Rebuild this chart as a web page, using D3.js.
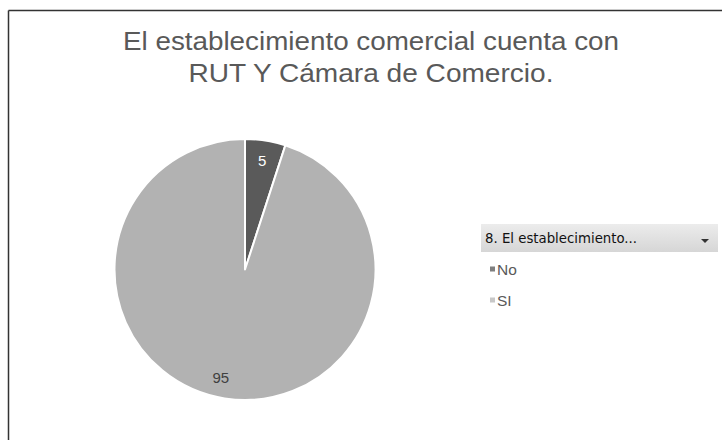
<!DOCTYPE html>
<html>
<head>
<meta charset="utf-8">
<script src="https://cdn.jsdelivr.net/npm/d3@7"></script>
<style>
body { margin: 0; background: #fff; }
svg { display: block; }
</style>
</head>
<body>
<svg id="chart" width="722" height="440"></svg>
<script>
// data
var categories = ["No", "SI"];
var values = [5, 95];
var colors = ["#5a5a5a", "#b2b2b2"];
var titleLines = ["El establecimiento comercial cuenta con", "RUT Y Cámara de Comercio."];
var legendTitle = "8. El establecimiento...";

var svg = d3.select("#chart");
var fontFam = "'Liberation Sans', Arial, sans-serif";

// frame
svg.append("line").attr("x1", 8.5).attr("y1", 10.5).attr("x2", 722).attr("y2", 10.5)
  .attr("stroke", "#333").attr("stroke-width", 1.5);
svg.append("line").attr("x1", 8.5).attr("y1", 10.5).attr("x2", 8.5).attr("y2", 440)
  .attr("stroke", "#333").attr("stroke-width", 1.5);

// title (stretched a bit, like the original rendering)
var titleW = [496, 365];
svg.append("g").selectAll("text").data(titleLines).enter().append("text")
  .attr("x", 371)
  .attr("y", function(d, i) { return 50 + i * 32; })
  .attr("text-anchor", "middle")
  .attr("font-family", fontFam)
  .attr("font-size", 25)
  .attr("fill", "#595959")
  .attr("textLength", function(d, i) { return titleW[i]; })
  .attr("lengthAdjust", "spacingAndGlyphs")
  .text(function(d) { return d; });

// pie
var cx = 245, cy = 269.5, r = 130.5;
var pie = d3.pie().sort(null).value(function(d) { return d; });
var arc = d3.arc().innerRadius(0).outerRadius(r);
var arcs = pie(values);

var g = svg.append("g").attr("transform", "translate(" + cx + "," + cy + ")");
g.selectAll("path").data(arcs).enter().append("path")
  .attr("d", arc)
  .attr("fill", function(d, i) { return colors[i]; })
  .attr("stroke", "#fff")
  .attr("stroke-width", 2)
  .attr("stroke-linejoin", "round");

var labelArc = d3.arc().innerRadius(r * 0.84).outerRadius(r * 0.84);
g.selectAll("text").data(arcs).enter().append("text")
  .attr("transform", function(d, i) {
    var c = labelArc.centroid(d);
    if (i == 1) c[0] -= 7;
    return "translate(" + c[0] + "," + c[1] + ")";
  })
  .attr("dy", "0.35em")
  .attr("text-anchor", "middle")
  .attr("font-family", fontFam)
  .attr("font-size", 15)
  .attr("fill", function(d, i) { return i == 0 ? "#fff" : "#404040"; })
  .text(function(d) { return d.data; });

// legend
var lg = svg.append("g");
var grad = svg.append("defs").append("linearGradient").attr("id", "hdr")
  .attr("x1", 0).attr("y1", 0).attr("x2", 0).attr("y2", 1);
grad.append("stop").attr("offset", "0%").attr("stop-color", "#ececec");
grad.append("stop").attr("offset", "100%").attr("stop-color", "#d6d6d6");
lg.append("rect").attr("x", 481).attr("y", 224).attr("width", 237).attr("height", 28)
  .attr("fill", "url(#hdr)");
lg.append("text").attr("x", 485).attr("y", 243)
  .attr("font-family", "'DejaVu Sans Condensed', 'Open Sans', sans-serif")
  .attr("font-size", 14).attr("fill", "#111")
  .attr("textLength", 152).attr("lengthAdjust", "spacingAndGlyphs")
  .text(legendTitle);
lg.append("path").attr("d", "M701,239 L709,239 L705,243 Z").attr("fill", "#333");

var items = lg.selectAll("g.item").data(categories).enter().append("g")
  .attr("class", "item")
  .attr("transform", function(d, i) { return "translate(490," + (269 + i * 31) + ")"; });
items.append("rect").attr("x", 0).attr("y", -2.5).attr("width", 5).attr("height", 5)
  .attr("fill", function(d, i) { return i == 0 ? "#7f7f7f" : "#c8c8c8"; });
items.append("text").attr("x", 7).attr("dy", "0.36em")
  .attr("font-family", fontFam).attr("font-size", 15.5).attr("fill", "#595959")
  .text(function(d) { return d; });
</script>
</body>
</html>
